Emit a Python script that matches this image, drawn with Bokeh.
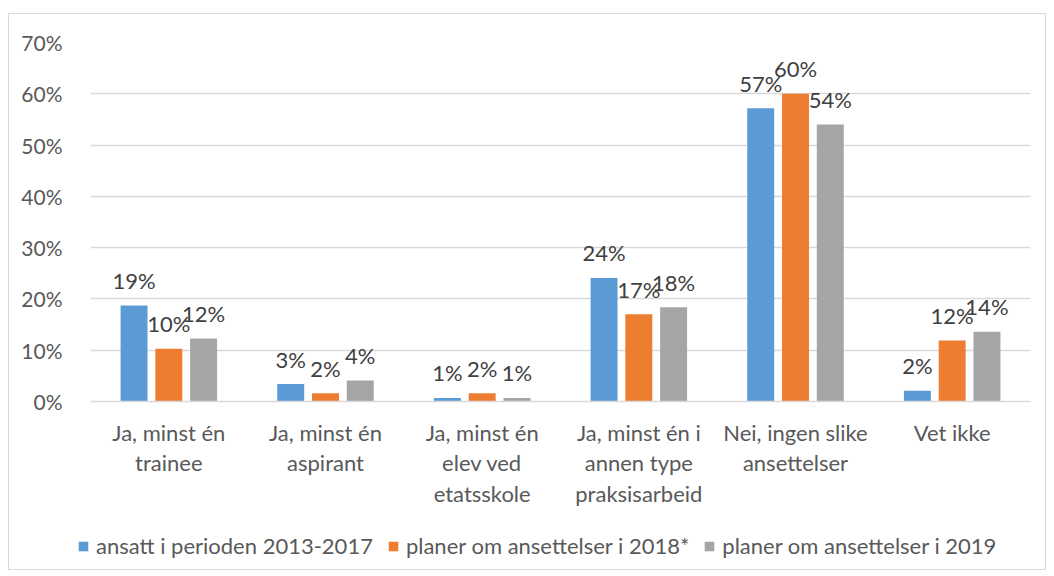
from bokeh.plotting import figure
from bokeh.models import ColumnDataSource, FactorRange, NumeralTickFormatter, LabelSet, Legend, LegendItem, Range1d
from bokeh.layouts import column
from bokeh.transform import dodge
from bokeh.core.properties import value
from bokeh.embed import file_html
from bokeh.resources import INLINE

categories = [
    "Ja, minst én\ntrainee",
    "Ja, minst én\naspirant",
    "Ja, minst én\nelev ved\netatsskole",
    "Ja, minst én i\nannen type\npraksisarbeid",
    "Nei, ingen slike\nansettelser",
    "Vet ikke",
]
series_names = [
    "ansatt i perioden 2013-2017",
    "planer om ansettelser i 2018*",
    "planer om ansettelser i 2019",
]
ansatt_2013_2017 = [18.7, 3.4, 0.7, 24.1, 57.2, 2.1]
planer_2018 = [10.3, 1.6, 1.6, 17.0, 60.0, 11.9]
planer_2019 = [12.3, 4.1, 0.7, 18.4, 54.0, 13.6]
y_ticks = [0, 10, 20, 30, 40, 50, 60, 70]

colors = ["#5B9BD5", "#ED7D31", "#A5A5A5"]
series_values = [ansatt_2013_2017, planer_2018, planer_2019]
offsets = [-0.222, 0.0, 0.222]
FONT = "Lato"

p = figure(
    x_range=FactorRange(*categories, range_padding=0),
    y_range=(0, 0.70),
    width=1036, height=511,
    output_backend="svg", toolbar_location=None,
    min_border_left=81, min_border_right=15, min_border_top=28, min_border_bottom=124,
)
p.outline_line_color = None
p.background_fill_color = "white"

for name, vals, col, off in zip(series_names, series_values, colors, offsets):
    src = ColumnDataSource(dict(
        cat=categories,
        v=[v / 100 for v in vals],
        lbl=["%d%%" % int(round(v)) for v in vals],
    ))
    p.vbar(x=dodge("cat", off, range=p.x_range), top="v", width=0.172, source=src,
           fill_color=col, line_color=None)
    labels = LabelSet(x=dodge("cat", off, range=p.x_range), y="v", text="lbl", source=src,
                      text_align="center", text_baseline="middle", y_offset=25,
                      text_font=value(FONT), text_font_size="22px", text_color="#404040")
    p.add_layout(labels)

p.xgrid.grid_line_color = None
p.ygrid.grid_line_color = "#D9D9D9"
p.ygrid.grid_line_width = 1.5
p.yaxis.ticker = [t / 100 for t in y_ticks]
p.yaxis.formatter = NumeralTickFormatter(format="0%")
p.yaxis.axis_line_color = None
p.yaxis.major_tick_line_color = None
p.yaxis.minor_tick_line_color = None
p.yaxis.major_label_standoff = 22
p.yaxis.major_label_text_font = FONT
p.yaxis.major_label_text_font_size = "21px"
p.yaxis.major_label_text_color = "#595959"

p.xaxis.axis_line_color = "#D9D9D9"
p.xaxis.axis_line_width = 1.5
p.xaxis.major_tick_line_color = None
p.xaxis.minor_tick_line_color = None
p.xaxis.major_label_standoff = 11
p.xaxis.major_label_text_font = FONT
p.xaxis.major_label_text_font_size = "22px"
p.xaxis.major_label_text_color = "#595959"
p.xaxis.major_label_text_line_height = 1.13

# legend strip
p2 = figure(width=1036, height=44, output_backend="svg", toolbar_location=None,
            x_range=Range1d(0, 1), y_range=Range1d(0, 1),
            x_axis_location=None, y_axis_location=None,
            min_border=0, min_border_left=0, min_border_right=0, min_border_top=0, min_border_bottom=0)
p2.outline_line_color = None
p2.xgrid.visible = False
p2.ygrid.visible = False
for fig in (p, p2):
    try:
        fig.frame_align = False
    except Exception:
        pass
items = []
for name, col in zip(series_names, colors):
    r = p2.vbar(x=[5], top=[5], bottom=[4], width=0.1, fill_color=col, line_color=None)
    items.append(LegendItem(label=name, renderers=[r]))
legend = Legend(items=items, orientation="horizontal", location=(68, 10),
                glyph_width=12, glyph_height=12, label_standoff=7, spacing=14,
                label_text_font=FONT, label_text_font_size="22px", label_text_color="#595959",
                border_line_color=None, background_fill_alpha=0, margin=0, padding=0)
p2.add_layout(legend, "center")

layout = column(p, p2, spacing=0)
layout.styles = {"border": "1px solid #D9D9D9", "margin-left": "8px", "margin-top": "13px"}

open("out.html", "w").write(file_html(layout, INLINE))
